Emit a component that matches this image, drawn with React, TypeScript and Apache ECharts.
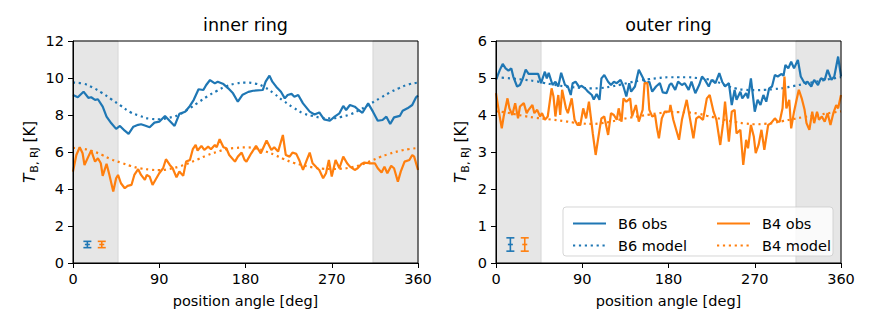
import React, { useEffect, useRef } from "react";
import * as echarts from "echarts";

// ---- data ----
const shadedRanges: [number, number][] = [[0, 47], [313, 360]];
const xTicks = [0, 90, 180, 270, 360];

const innerB6Obs: [number, number][] = [[0,9.08],[5,8.96],[11,9.26],[16,8.93],[19,8.96],[23,8.82],[26,8.85],[31,8.45],[35,7.91],[40,7.55],[45,7.25],[49,7.41],[54,7.15],[58,6.98],[63,7.37],[68,7.47],[71,7.5],[75,7.43],[80,7.34],[85,7.59],[90,7.64],[96,7.95],[101,7.68],[106,7.41],[111,8.06],[117,8.18],[122,8.49],[126,8.82],[131,9.39],[136,9.35],[139,9.62],[143,9.89],[148,9.71],[151,9.8],[157,9.67],[162,9.44],[167,9.17],[172,8.72],[177,9.1],[183,9.25],[188,9.31],[198,9.35],[201,9.8],[205,10.13],[208,9.8],[212,9.53],[217,9.26],[221,8.9],[224,9.08],[228,9.14],[231,8.99],[235,9.08],[240,8.63],[247,8.18],[252,8.03],[257,8.14],[262,7.76],[268,7.69],[273,7.91],[278,8.09],[282,8.49],[285,8.27],[289,8.54],[294,8.45],[298,8.27],[302,8.12],[308,8.63],[313,8.18],[318,7.69],[323,7.73],[327,7.91],[331,7.51],[335,7.87],[341,7.95],[344,8.23],[349,8.36],[354,8.54],[358,8.96],[360,9.05]];

const innerB4Obs: [number, number][] = [[0,4.94],[3.5,5.84],[7,6.26],[10,5.93],[12,5.3],[16,5.75],[19,6.08],[23,5.48],[26,5.66],[29,5.39],[31,4.71],[35,5.36],[38,4.76],[42,3.87],[45,4.58],[47,4.76],[50,4.31],[54,4.04],[57,4.17],[61,4.22],[64,4.76],[68,5.07],[71,4.76],[75,4.49],[77,4.76],[80,4.67],[83,4.22],[87,4.58],[90,4.85],[94,5.12],[97,5.61],[101,5.3],[104,5.12],[108,4.63],[111,4.94],[115,4.71],[118,5.48],[122,5.57],[125,6.15],[128,6.38],[130,6.08],[134,6.33],[137,6.11],[141,6.29],[144,6.15],[148,6.38],[150,6.26],[153,6.69],[157,6.26],[160,6.2],[163,5.84],[169,5.48],[172,5.75],[176,5.97],[179,5.57],[181,5.48],[186,5.93],[191,6.33],[196,5.93],[202,6.62],[207,6.11],[210,6.26],[214,6.02],[219,6.92],[222,5.84],[226,5.75],[229,5.97],[233,5.9],[236,5.57],[240,5.03],[244,5.57],[247,5.97],[250,5.39],[254,5.17],[257,5.03],[261,4.58],[264,4.85],[267,5.57],[270,4.67],[274,5.57],[278,5.12],[282,5.75],[286,5.39],[289,5.21],[294,5.03],[297,5.12],[301,5.35],[304,5.43],[309,5.39],[315,5.39],[318,5.12],[322,4.89],[325,5.21],[328,4.85],[332,5.25],[335,5.12],[339,4.4],[342,4.94],[346,5.48],[351,5.57],[354,5.84],[356,5.75],[360,5.03]];

const modelAngles = [0,10,20,30,40,50,60,70,80,90,100,110,120,130,140,150,160,170,180,190,200,210,220,230,240,250,260,270,280,290,300,310,320,330,340,350,360];
const innerB6Model = [9.75,9.7,9.5,9.2,8.85,8.5,8.15,7.95,7.8,7.77,7.85,8.0,8.3,8.65,9.0,9.3,9.55,9.7,9.75,9.7,9.5,9.15,8.75,8.4,8.1,7.95,7.85,7.82,7.9,8.05,8.3,8.6,8.9,9.2,9.45,9.65,9.75];
const innerB4Model = [6.22,6.18,6.05,5.85,5.6,5.42,5.25,5.12,5.05,5.02,5.08,5.2,5.38,5.6,5.82,6.0,6.15,6.22,6.25,6.2,6.05,5.85,5.62,5.42,5.28,5.17,5.1,5.08,5.1,5.17,5.3,5.5,5.72,5.9,6.05,6.15,6.22];

const outerB6Obs: [number, number][] = [[0,4.95],[4,5.22],[7,5.38],[10,5.26],[13,5.2],[16,5.26],[18,5.04],[22,4.77],[25,4.81],[28,4.99],[31,5.23],[34,5.11],[39,5.11],[44,5.11],[47,4.86],[51,5.17],[53,4.99],[55,5.14],[59,4.81],[62,4.9],[65,4.77],[68,5.14],[72,4.81],[75,4.77],[78,4.54],[80,4.86],[83,4.9],[87,4.75],[89,4.79],[93,4.72],[96,4.63],[100,4.54],[102,4.42],[105,4.57],[108,4.41],[110,4.99],[113,5.08],[117,4.9],[120,4.81],[123,4.9],[126,4.86],[130,4.95],[133,4.77],[136,4.5],[139,4.86],[141,4.63],[145,4.77],[149,5.22],[153,5.02],[156,4.86],[160,4.9],[163,4.63],[167,4.77],[171,4.86],[174,4.61],[178,4.59],[181,4.81],[183,4.86],[187,4.68],[190,4.9],[194,4.81],[197,4.86],[201,4.68],[204,4.9],[208,4.59],[212,4.81],[215,5.04],[218,4.95],[222,4.77],[225,4.95],[229,4.86],[233,5.13],[236,4.9],[239,4.77],[243,4.86],[246,4.27],[249,4.68],[251,4.41],[255,4.63],[257,4.45],[261,4.59],[263,4.45],[266,4.99],[270,4.09],[273,4.41],[276,4.27],[279,4.54],[282,4.36],[285,4.72],[288,4.77],[291,5.08],[294,5.04],[298,5.11],[300,5.06],[302,5.35],[305,5.26],[308,5.44],[311,5.26],[315,5.49],[318,5.04],[322,4.86],[325,4.9],[329,4.77],[332,4.95],[336,4.81],[339,4.99],[343,4.95],[346,5.22],[350,4.95],[353,5.04],[357,5.58],[360,5.04]];

const outerB4Obs: [number, number][] = [[0,4.59],[3,4.09],[6,3.64],[8,3.96],[12,4.45],[14,4.18],[17,4.0],[20,4.32],[23,3.91],[25,4.23],[29,4.32],[32,4.05],[34,4.14],[38,4.27],[40,4.05],[43,4.14],[46,3.96],[48,4.05],[51,3.87],[54,3.96],[58,4.72],[60,4.5],[62,3.96],[65,4.54],[67,4.0],[69,4.68],[73,4.18],[75,4.05],[79,4.45],[82,3.87],[85,3.73],[88,3.73],[91,4.18],[94,3.91],[97,4.36],[101,3.5],[104,2.92],[108,3.6],[110,3.91],[113,3.96],[117,3.46],[120,4.05],[123,4.0],[126,3.87],[128,4.18],[131,3.82],[133,4.45],[136,4.36],[140,4.45],[142,3.96],[146,4.27],[149,3.82],[153,4.14],[155,4.86],[158,4.86],[160,4.14],[163,3.96],[166,4.0],[168,3.64],[170,3.37],[173,3.91],[176,4.09],[181,4.09],[182,4.27],[185,3.87],[191,3.33],[194,3.87],[199,4.41],[202,3.96],[206,3.37],[209,3.91],[212,3.96],[216,3.87],[220,4.45],[223,4.54],[227,4.09],[230,3.87],[234,3.19],[237,3.78],[239,4.36],[243,3.28],[246,4.09],[249,4.14],[251,3.5],[255,3.6],[258,2.65],[261,3.33],[263,3.1],[266,3.73],[269,3.42],[271,2.97],[274,3.19],[277,3.6],[280,3.06],[284,3.73],[287,3.78],[291,3.91],[294,3.82],[296,3.82],[299,4.18],[301,5.04],[303,4.18],[306,4.41],[308,3.64],[311,4.09],[314,4.45],[316,4.68],[319,4.45],[322,4.14],[324,3.78],[327,3.6],[330,4.09],[332,3.78],[335,4.09],[337,3.87],[340,3.96],[343,3.82],[346,4.05],[349,3.73],[352,4.05],[355,4.27],[357,4.18],[360,4.54]];

const outerB6Model = [5.02,5.0,4.98,4.95,4.92,4.87,4.82,4.78,4.75,4.73,4.72,4.73,4.77,4.82,4.88,4.93,4.97,5.0,5.02,5.02,5.02,5.0,4.97,4.9,4.8,4.72,4.68,4.67,4.68,4.7,4.73,4.78,4.83,4.88,4.93,4.98,5.02];
const outerB4Model = [4.1,4.07,4.02,3.97,3.93,3.9,3.87,3.84,3.8,3.77,3.76,3.78,3.82,3.88,3.93,3.97,4.01,4.05,4.08,4.08,4.07,4.04,3.98,3.92,3.86,3.81,3.77,3.75,3.76,3.79,3.84,3.89,3.94,3.98,4.02,4.06,4.1];

// error bars: [angle, value, error]
const innerB6Err = [15, 1.0, 0.17];
const innerB4Err = [30, 1.0, 0.17];
const outerB6Err = [15, 0.5, 0.18];
const outerB4Err = [30, 0.5, 0.18];

const BLUE = "#1f77b4";
const ORANGE = "#ff7f0e";
const FONT = "DejaVu Sans";

function App() {
  const ref = useRef<HTMLDivElement>(null);
  useEffect(() => {
    if (!ref.current) return;
    const chart = echarts.init(ref.current, undefined, { renderer: "svg" });

    const grids = [
      { left: 73, top: 41, width: 345, height: 222 },
      { left: 496, top: 41, width: 345, height: 222 },
    ];
    const xAxisBase = (gi: number) => ({
      type: "value",
      gridIndex: gi,
      min: 0,
      max: 360,
      interval: 90,
      name: "position angle [deg]",
      nameLocation: "middle",
      nameGap: 30,
      nameTextStyle: { fontSize: 14.5, color: "#000", fontFamily: FONT },
      axisLine: { show: true, lineStyle: { color: "#000", width: 1 } },
      axisTick: { show: true, inside: false, length: 5, lineStyle: { color: "#000" } },
      axisLabel: { fontSize: 14.5, color: "#000", margin: 8, fontFamily: FONT,
        formatter: (v: number) => (xTicks.includes(v) ? String(v) : "") },
      splitLine: { show: false },
      z: 10,
    });
    const yAxisBase = (gi: number, max: number, interval: number) => ({
      type: "value",
      gridIndex: gi,
      min: 0,
      max,
      interval,
      name: "{i|T}{s|B, RJ}{n| [K]}",
      nameLocation: "middle",
      nameRotate: 90,
      nameGap: gi === 0 ? 33 : 25,
      nameTextStyle: {
        color: "#000",
        fontFamily: FONT,
        rich: {
          i: { fontSize: 15.5, fontStyle: "italic", fontFamily: FONT, color: "#000", lineHeight: 20, verticalAlign: "middle" },
          s: { fontSize: 11, fontFamily: FONT, color: "#000", lineHeight: 20, verticalAlign: "bottom", padding: [6, 0, 0, 1] },
          n: { fontSize: 15, fontFamily: FONT, color: "#000", lineHeight: 20, verticalAlign: "middle" },
        },
      },
      axisLine: { show: true, lineStyle: { color: "#000", width: 1 } },
      axisTick: { show: true, inside: false, length: 5, lineStyle: { color: "#000" } },
      axisLabel: { fontSize: 14.5, color: "#000", margin: 9, fontFamily: FONT },
      splitLine: { show: false },
      z: 10,
    });

    const obsSeries = (name: string, gi: number, data: [number, number][], color: string) => ({
      type: "line",
      name,
      xAxisIndex: gi,
      yAxisIndex: gi,
      data,
      showSymbol: false,
      symbol: "none",
      z: 4,
      lineStyle: { color, width: 2.2 },
      itemStyle: { color },
    });
    const modelSeries = (name: string, gi: number, vals: number[], color: string) => ({
      type: "line",
      name,
      xAxisIndex: gi,
      yAxisIndex: gi,
      data: modelAngles.map((a, i) => [a, vals[i]]),
      showSymbol: false,
      symbol: "none",
      smooth: true,
      z: 3,
      lineStyle: { color, width: 2.2, type: [2.2, 3.7] },
      itemStyle: { color },
    });
    const shadeSeries = (gi: number) => ({
      type: "line",
      xAxisIndex: gi,
      yAxisIndex: gi,
      data: [],
      z: 1,
      silent: true,
      markArea: {
        silent: true,
        itemStyle: { color: "#e6e6e6", borderColor: "#d6d6d6", borderWidth: 1 },
        data: shadedRanges.map(([a, b]) => [{ xAxis: a }, { xAxis: b }]),
      },
    });
    const errSeries = (gi: number, d: number[], color: string) => ({
      type: "custom",
      xAxisIndex: gi,
      yAxisIndex: gi,
      z: 5,
      data: [d],
      renderItem: (params: any, api: any) => {
        const x = api.value(0), y = api.value(1), e = api.value(2);
        const t = api.coord([x, y + e]);
        const b = api.coord([x, y - e]);
        const c = api.coord([x, y]);
        const st = { stroke: color, lineWidth: 1.6 };
        const cw = 4;
        return {
          type: "group",
          children: [
            { type: "line", shape: { x1: t[0], y1: t[1], x2: b[0], y2: b[1] }, style: st },
            { type: "line", shape: { x1: t[0] - cw, y1: t[1], x2: t[0] + cw, y2: t[1] }, style: st },
            { type: "line", shape: { x1: b[0] - cw, y1: b[1], x2: b[0] + cw, y2: b[1] }, style: st },
            { type: "line", shape: { x1: c[0] - 2.5, y1: c[1], x2: c[0] + 2.5, y2: c[1] }, style: st },
          ],
        };
      },
    });

    const legendCommon = {
      orient: "vertical",
      top: 211,
      itemWidth: 33,
      itemHeight: 14,
      itemGap: 7,
      z: 10,
      itemStyle: { opacity: 0 },
      formatter: (n: string) => "{a|" + n + "}",
      textStyle: {
        fontSize: 14.5, color: "#000", fontFamily: FONT,
        rich: { a: { fontSize: 14.5, color: "#000", fontFamily: FONT, padding: [0, 0, 0, 7] } },
      },
      selectedMode: false,
    };

    const option: any = {
      animation: false,
      textStyle: { fontFamily: FONT },
      grid: grids.map((g) => ({ ...g, show: true, z: 10, borderColor: "#000", borderWidth: 1, backgroundColor: "transparent" })),
      xAxis: [xAxisBase(0), xAxisBase(1)],
      yAxis: [yAxisBase(0, 12, 2), yAxisBase(1, 6, 1)],
      legend: [
        { ...legendCommon, left: 567, data: ["B6 obs", "B6 model"] },
        { ...legendCommon, left: 711, data: ["B4 obs", "B4 model"] },
      ],
      graphic: [
        { type: "text", x: 245.5, y: 25, z: 10, style: { text: "inner ring", fontSize: 17.5, fontFamily: FONT, fill: "#000", textAlign: "center", textVerticalAlign: "middle" } },
        { type: "text", x: 668.5, y: 25, z: 10, style: { text: "outer ring", fontSize: 17.5, fontFamily: FONT, fill: "#000", textAlign: "center", textVerticalAlign: "middle" } },
        { type: "rect", z: 8, shape: { x: 563, y: 207, width: 270, height: 49, r: 3 }, style: { fill: "rgba(255,255,255,0.8)", stroke: "rgba(204,204,204,0.8)", lineWidth: 1 } },
      ],
      series: [
        shadeSeries(0),
        shadeSeries(1),
        modelSeries("B6 model", 0, innerB6Model, BLUE),
        modelSeries("B4 model", 0, innerB4Model, ORANGE),
        obsSeries("B6 obs", 0, innerB6Obs, BLUE),
        obsSeries("B4 obs", 0, innerB4Obs, ORANGE),
        modelSeries("B6 model", 1, outerB6Model, BLUE),
        modelSeries("B4 model", 1, outerB4Model, ORANGE),
        obsSeries("B6 obs", 1, outerB6Obs, BLUE),
        obsSeries("B4 obs", 1, outerB4Obs, ORANGE),
        errSeries(0, innerB6Err, BLUE),
        errSeries(0, innerB4Err, ORANGE),
        errSeries(1, outerB6Err, BLUE),
        errSeries(1, outerB4Err, ORANGE),
      ],
    };
    chart.setOption(option);
    return () => chart.dispose();
  }, []);
  return (
    <div
      ref={ref}
      style={{ position: "fixed", left: 0, top: 0, width: 872, height: 327, background: "#fff" }}
    />
  );
}

export default App;
